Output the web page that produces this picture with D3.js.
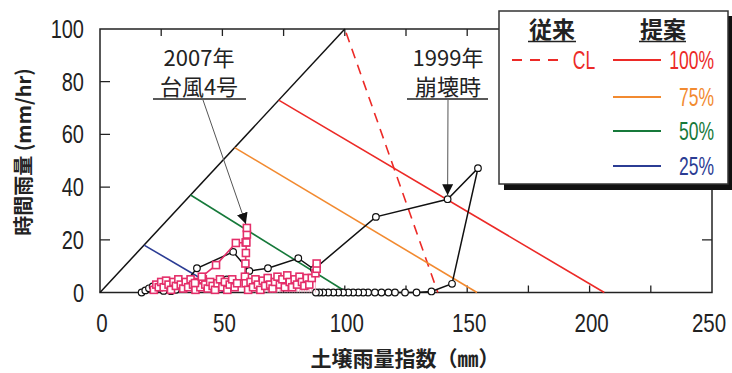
<!DOCTYPE html>
<html>
<head>
<meta charset="utf-8">
<script src="https://cdn.jsdelivr.net/npm/d3@7"></script>
<style>
	body { margin: 0; background: #fff; }
	svg { display: block; }
	text { fill: #222; }
</style>
</head>
<body>
<svg id="chart" width="732" height="373"></svg>
<script>
// axis ticks
const xTickLabels = [0, 50, 100, 150, 200, 250]
const xMinorTicks = [25, 50, 75, 100, 125, 150, 175, 200, 225]
const yTickLabels = [0, 20, 40, 60, 80, 100]

// reference lines [x, y] end points
const diagonal = [[0, 0], [100, 100]]
const clLine = [[100, 100], [138, 0]]
const proposalLevels = ["100%", "75%", "50%", "25%"]
const proposalColors = ["#ec2a27", "#f28a30", "#16793a", "#2b3c94"]
const proposalLines = [
	[[73, 73], [206, 0]],
	[[55, 55], [154, 0]],
	[[37, 37], [101, 0]],
	[[18, 18], [51, 0]]
]

// 1999 collapse event (soil index, hourly rain)
const event1999 = [
	[17, 0], [18.5, 0.8], [20, 1.6], [21.5, 2.3], [23, 1.2], [26, 0.6], [29, 0.5], [31, 1], [33, 2.5], [35, 4],
	[39.6, 9.2], [54.4, 15.4], [61, 8.2], [68.6, 9.2], [81, 13], [87.4, 8.8], [112.7, 28.7], [142, 35.4],
	[154.4, 47.2], [143.8, 3.3], [135.4, 0.4], [129.3, 0], [124.6, 0], [120.5, 0], [117.8, 0], [115, 0],
	[112.3, 0], [109.5, 0], [107.5, 0], [105.5, 0], [103.4, 0], [101.4, 0], [99.3, 0], [97.3, 0], [95.3, 0],
	[93.2, 0], [91.2, 0], [89.6, 0], [88.2, 0]
]
const event1999Extra = [[51.8, 5], [54.7, 4]]

// 2007 typhoon No.4
const event2007 = [
	[22, 1], [23, 3], [24, 2], [25, 4], [26, 2], [27, 4.5], [28, 3], [29, 1], [30, 4], [31, 2.5], [32, 5], [33, 3],
	[34, 1.5], [35, 4], [36, 2], [37, 5], [38, 3], [39, 1], [40, 4], [41, 2], [42, 5], [43, 3], [44, 1.5], [45, 4],
	[46, 2.5], [47, 1], [48, 3.5], [49, 5], [50, 2], [51, 4], [52, 1], [53, 3], [54, 5], [55, 2], [56, 3.5],
	[38.8, 3.6], [41.6, 6], [47.4, 10.4], [55.5, 18.8], [59.5, 19], [60, 22], [60, 24.5], [59.8, 19], [59.6, 15],
	[59.4, 11], [59.2, 6], [59.5, 3.5], [60.5, 1], [61.5, 4], [62.5, 2], [63.5, 5], [64.5, 3], [65.5, 1], [66.5, 4.5],
	[67.5, 2.5], [68.5, 5.5], [69.5, 3], [70.5, 1.5], [71.5, 4], [72.5, 6], [73.5, 3], [74.5, 5], [75.5, 2], [76.5, 6.5],
	[77.5, 4], [78.5, 2], [79.5, 5], [80.5, 3], [81.5, 6], [82.5, 4], [83.5, 2.5], [84.5, 5.5], [85.5, 3], [86.5, 5.5],
	[88, 7.3], [88.5, 9], [88.5, 11]
]

const svg = d3.select("#chart")
const x = d3.scaleLinear().domain([0, 250]).range([100, 712])
const y = d3.scaleLinear().domain([0, 100]).range([292.5, 29])
const line = d3.line().x(d => x(d[0])).y(d => y(d[1]))
const numFont = "'Liberation Sans', Arial, sans-serif"
const jpFont = "'Noto Sans CJK JP', sans-serif"

// squeeze text horizontally, the original uses a narrow gothic face
const condense = (sel, k) => sel.each(function () {
	const w = this.getComputedTextLength()
	d3.select(this).attr("textLength", w * k).attr("lengthAdjust", "spacingAndGlyphs")
})

svg.append("defs").append("marker")
	.attr("id", "arrow")
	.attr("viewBox", "0 0 10 10")
	.attr("refX", 10).attr("refY", 5)
	.attr("markerWidth", 11).attr("markerHeight", 11)
	.attr("markerUnits", "userSpaceOnUse")
	.attr("orient", "auto")
	.append("path").attr("d", "M0,0L10,5L0,10Z").attr("fill", "#111")

// frame + inward ticks
const frame = svg.append("g")
frame.append("rect")
	.attr("x", x(0)).attr("y", y(100))
	.attr("width", x(250) - x(0)).attr("height", y(0) - y(100))
	.attr("fill", "none").attr("stroke", "#222").attr("stroke-width", 1.5)
frame.selectAll(".xt").data(xMinorTicks).enter().append("path")
	.attr("d", d => `M${x(d)},${y(0)}v-7M${x(d)},${y(100)}v7`)
	.attr("stroke", "#222").attr("stroke-width", 1.3)
frame.selectAll(".yt").data(yTickLabels.slice(1, -1)).enter().append("path")
	.attr("d", d => `M${x(0)},${y(d)}h10M${x(250)},${y(d)}h-10`)
	.attr("stroke", "#222").attr("stroke-width", 1.3)

svg.selectAll(".xl").data(xTickLabels).enter().append("text")
	.attr("x", d => x(d) + (d === 250 ? -3 : 2)).attr("y", 332)
	.attr("text-anchor", "middle")
	.style("font", `25px ${numFont}`)
	.text(d => d)
	.call(condense, 0.82)
svg.selectAll(".yl").data(yTickLabels).enter().append("text")
	.attr("x", 84).attr("y", d => y(d) + 9)
	.attr("text-anchor", "end")
	.style("font", `25px ${numFont}`)
	.text(d => d)
	.call(condense, 0.8)

svg.append("text")
	.attr("x", 405).attr("y", 366)
	.attr("text-anchor", "middle")
	.style("font", `bold 21px ${jpFont}`)
	.text("土壌雨量指数（㎜）")
svg.append("text")
	.attr("transform", "translate(31,152) rotate(-90)")
	.attr("text-anchor", "middle")
	.style("font", `bold 20px ${jpFont}`)
	.text("時間雨量 (mm/hr)")

// reference lines
const plot = svg.append("g")
plot.append("path").attr("d", line(diagonal)).attr("fill", "none").attr("stroke", "#111").attr("stroke-width", 1.5)
plot.append("path").attr("d", line(clLine)).attr("fill", "none")
	.attr("stroke", proposalColors[0]).attr("stroke-width", 1.6)
	.attr("stroke-dasharray", "10,7").attr("stroke-dashoffset", -4)
plot.selectAll(".prop").data(proposalLines).enter().append("path")
	.attr("d", line).attr("fill", "none")
	.attr("stroke", (d, i) => proposalColors[i]).attr("stroke-width", 1.6)

// 1999 series
plot.append("path").attr("d", line(event1999)).attr("fill", "none").attr("stroke", "#111").attr("stroke-width", 1.5)
plot.selectAll(".c99").data(event1999.concat(event1999Extra)).enter().append("circle")
	.attr("cx", d => x(d[0])).attr("cy", d => y(d[1])).attr("r", 3.3)
	.attr("fill", "#fff").attr("stroke", "#111").attr("stroke-width", 1.2)

// 2007 series
const pink = "#e42f6a"
plot.selectAll(".drop").data(event2007.filter(d => d[0] > 60 && d[1] < 8)).enter().append("path")
	.attr("d", d => `M${x(d[0])},${y(d[1])}V${y(0)}`)
	.attr("stroke", "#f3a3bd").attr("stroke-width", 0.8)
plot.append("path").attr("d", line(event2007)).attr("fill", "none").attr("stroke", pink).attr("stroke-width", 1.6)
plot.selectAll(".s07").data(event2007).enter().append("rect")
	.attr("x", d => x(d[0]) - 3.5).attr("y", d => y(d[1]) - 3.5)
	.attr("width", 7).attr("height", 7)
	.attr("fill", "#fff").attr("stroke", pink).attr("stroke-width", 1.6)

// annotations
const notes = [
	{ lines: ["2007年", "台風4号"], cx: 199, u: [153, 246], from: [203, 100], to: [60, 24.5] },
	{ lines: ["1999年", "崩壊時"], cx: 448, u: [407, 488], from: [448, 100], to: [142, 35.4] }
]
notes.forEach(n => {
	n.lines.forEach((t, i) => {
		svg.append("text").attr("x", n.cx).attr("y", 66 + i * 29)
			.attr("text-anchor", "middle")
			.style("font", `22px ${jpFont}`)
			.text(t)
	})
	svg.append("path").attr("d", `M${n.u[0]},99H${n.u[1]}`).attr("stroke", "#222").attr("stroke-width", 1.5)
	svg.append("path")
		.attr("d", `M${n.from[0]},${n.from[1]}L${x(n.to[0]) - (n.cx < 300 ? 1 : 0)},${y(n.to[1]) - 4}`)
		.attr("stroke", "#555").attr("stroke-width", 1)
		.attr("marker-end", "url(#arrow)")
})

// legend
const lg = svg.append("g")
lg.append("rect").attr("x", 504).attr("y", 16).attr("width", 228).attr("height", 174).attr("fill", "#111")
lg.append("rect").attr("x", 499).attr("y", 11).attr("width", 229).attr("height", 173)
	.attr("fill", "#fff").attr("stroke", "#333").attr("stroke-width", 1.5)
;[["従来", 552, [528, 576]], ["提案", 663, [639, 686]]].forEach(h => {
	lg.append("text").attr("x", h[1]).attr("y", 38).attr("text-anchor", "middle")
		.style("font", `bold 23px ${jpFont}`).text(h[0])
	lg.append("path").attr("d", `M${h[2][0]},41.5H${h[2][1]}`).attr("stroke", "#222").attr("stroke-width", 1.5)
})
lg.append("path").attr("d", "M512,60H558").attr("stroke", proposalColors[0]).attr("stroke-width", 2.2).attr("stroke-dasharray", "10,8")
lg.append("text").attr("x", 584).attr("y", 69).attr("text-anchor", "middle")
	.style("font", `25px ${numFont}`).style("fill", proposalColors[0]).text("CL")
	.call(condense, 0.7)
const rowY = [60, 97, 131, 166]
proposalLevels.forEach((lvl, i) => {
	lg.append("path").attr("d", `M613,${rowY[i]}H661`).attr("stroke", proposalColors[i]).attr("stroke-width", 2)
	lg.append("text").attr("x", 714).attr("y", rowY[i] + 9).attr("text-anchor", "end")
		.style("font", `25px ${numFont}`).style("fill", proposalColors[i]).text(lvl)
		.call(condense, 0.7)
})
</script>
</body>
</html>
